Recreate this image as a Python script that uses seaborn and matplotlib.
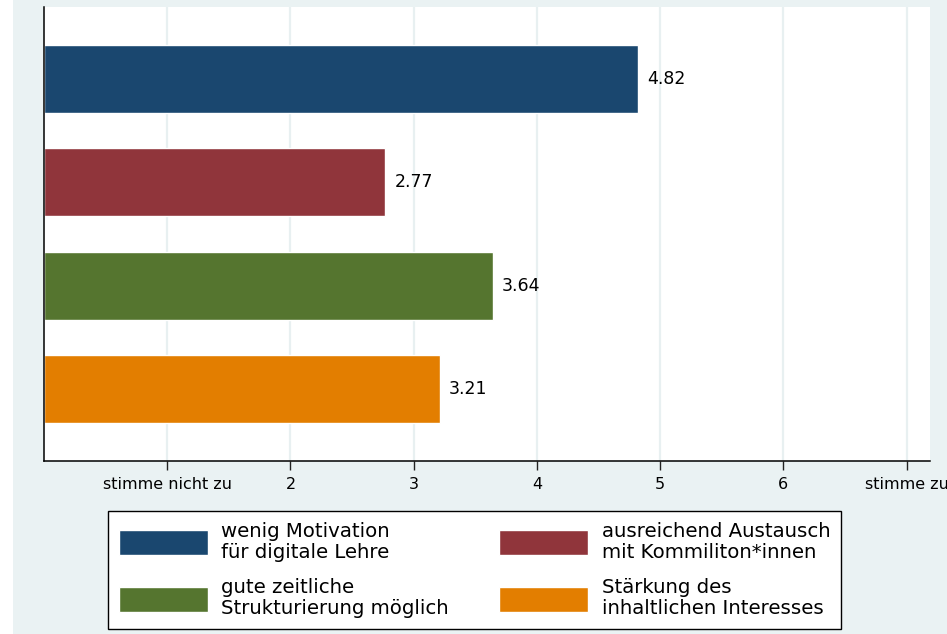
import numpy as np
import pandas as pd
import matplotlib
matplotlib.use("Agg")
import matplotlib.pyplot as plt
import seaborn as sns
from matplotlib.patches import Rectangle

# data
items = ["wenig Motivation\nfür digitale Lehre",
         "ausreichend Austausch\nmit Kommiliton*innen",
         "gute zeitliche\nStrukturierung möglich",
         "Stärkung des\ninhaltlichen Interesses"]
means = [4.82, 2.77, 3.64, 3.21]
colors = ["#1A476F", "#90353B", "#55752F", "#E37E00"]
tick_pos = [1, 2, 3, 4, 5, 6, 7]
tick_labels = ["stimme nicht zu", "2", "3", "4", "5", "6", "stimme zu"]

df = pd.DataFrame({"item": items, "mean": means})

sns.set_style("white")
plt.rcParams["font.family"] = ["DejaVu Sans"]
plt.rcParams["text.color"] = "black"
plt.rcParams["xtick.color"] = "black"

W, H = 947, 634
fig = plt.figure(figsize=(W / 100, H / 100), dpi=100)
fig.patch.set_facecolor("#EAF2F3")
fig.patches.append(Rectangle((0, 0), 13 / W, 1, transform=fig.transFigure,
                             facecolor="white", edgecolor="none", zorder=-1))

ax = fig.add_axes([44 / W, 1 - 461 / H, (930 - 44) / W, (461 - 7) / H])
ax.set_facecolor("white")

sns.barplot(data=df, y="item", x="mean", hue="item", palette=colors,
            order=items, hue_order=items, dodge=False, width=0.66,
            saturation=1, legend=True, ax=ax, zorder=2)

for c in ax.containers:
    ax.bar_label(c, fmt="%.2f", padding=6.5, fontsize=12.5, color="black")

ax.set_xlim(0, 7.19)
ax.set_ylim(3.70, -0.70)
ax.set_xticks(tick_pos)
ax.set_xticklabels(tick_labels, fontsize=11.5, color="black")
ax.set_yticks([])
ax.set_xlabel("")
ax.set_ylabel("")
ax.xaxis.grid(True, color="#E8F0F1", linewidth=1.6, zorder=0)
ax.set_axisbelow(True)
ax.tick_params(axis="x", direction="out", length=6.5, width=1, color="#222222",
               pad=5, bottom=True)
for s in ["top", "right"]:
    ax.spines[s].set_visible(False)
for s in ["left", "bottom"]:
    ax.spines[s].set_color("black")
    ax.spines[s].set_linewidth(1.1)

handles, labels = ax.get_legend_handles_labels()
ax.get_legend().remove()
# row-wise order as in the original (two columns)
order = [0, 2, 1, 3]
leg = fig.legend([handles[i] for i in order], [labels[i] for i in order],
                 ncol=2, loc="upper left",
                 bbox_to_anchor=(108 / W, 1 - 511 / H), fontsize=14.2,
                 frameon=True, fancybox=False, shadow=False,
                 edgecolor="black", facecolor="white", framealpha=1,
                 handlelength=4.5, handleheight=1.55, handletextpad=0.7,
                 columnspacing=2.55, labelspacing=0.85, borderpad=0.55,
                 borderaxespad=0)
leg.get_frame().set_linewidth(1.0)
for t in leg.get_texts():
    t.set_linespacing(1.12)
    t.set_color("black")

fig.savefig("out.png", dpi=100, facecolor=fig.get_facecolor())
plt.close()
